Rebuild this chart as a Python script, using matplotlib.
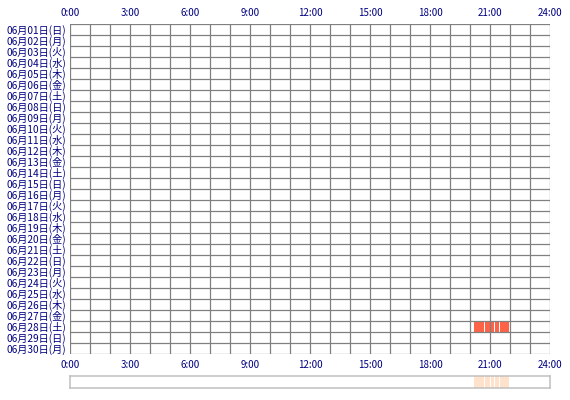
import matplotlib.pyplot as plt

plt.rcParams['font.family'] = ['Noto Sans CJK JP', 'DejaVu Sans']

days = list(range(1, 31))
weekdays = ['日', '月', '火', '水', '木', '金', '土'] * 5
weekdays = weekdays[:30]
day_labels = ['06月%02d日(%s)' % (d, w) for d, w in zip(days, weekdays)]

hour_ticks = [0, 3, 6, 9, 12, 15, 18, 21, 24]
hour_labels = ['0:00', '3:00', '6:00', '9:00', '12:00', '15:00', '18:00', '21:00', '24:00']

# access sessions: (day, start hour, end hour)
sess_day = [28, 28, 28, 28, 28]
sess_start = [20.2, 20.75, 21.03, 21.25, 21.5]
sess_end = [20.72, 21.0, 21.2, 21.45, 21.95]

navy = '#000080'
grid_c = '#808080'

fig = plt.figure(figsize=(5.7, 4.0), dpi=100)
ax = fig.add_axes([70 / 570, 46 / 400, 480 / 570, 330 / 400])

ax.set_xlim(0, 24)
ax.set_ylim(30, 0)
for h in range(25):
    ax.axvline(h, color=grid_c, linewidth=0.9, zorder=2)
for r in range(31):
    ax.axhline(r, color=grid_c, linewidth=0.9, zorder=2)

for d, s, e in zip(sess_day, sess_start, sess_end):
    ax.broken_barh([(s, e - s)], (d - 1, 1), facecolors='#ff6347', zorder=1)

ax.set_xticks(hour_ticks)
ax.set_xticklabels(hour_labels)
ax.set_yticks([i + 0.5 for i in range(30)])
ax.set_yticklabels(day_labels)
ax.tick_params(which='both', length=0)
ax.tick_params(axis='x', labeltop=True, labelbottom=True, labelsize=7, colors=navy, pad=4)
ax.tick_params(axis='y', labelsize=7.3, colors=navy, pad=3)
for sp in ax.spines.values():
    sp.set_visible(False)

# summary strip
ax2 = fig.add_axes([70 / 570, 12 / 400, 480 / 570, 12 / 400])
for s, e in zip(sess_start, sess_end):
    ax2.axvspan(s, e, color='#ffe2cc', linewidth=0)
ax2.set_xlim(0, 24)
ax2.set_ylim(0, 1)
ax2.set_xticks([])
ax2.set_yticks([])
for sp in ax2.spines.values():
    sp.set_color('#c0c0c0')
    sp.set_linewidth(1.1)

fig.savefig('out.png', dpi=100)
